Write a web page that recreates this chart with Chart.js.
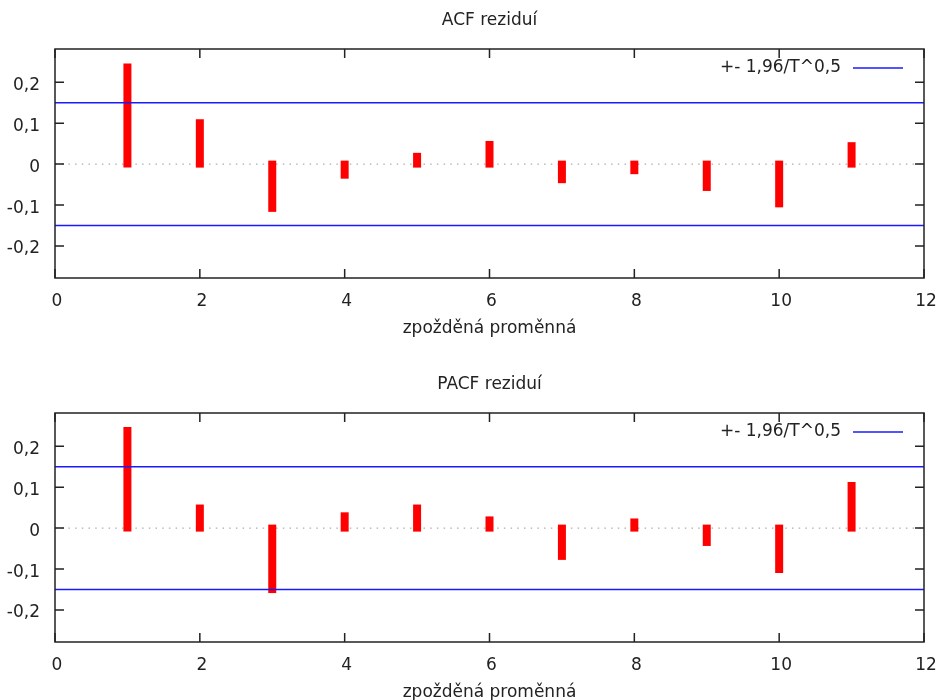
<!DOCTYPE html>
<html>
<head>
<meta charset="utf-8">
<script src="https://cdn.jsdelivr.net/npm/chart.js@4/dist/chart.umd.min.js"></script>
<style>
  html, body { margin: 0; padding: 0; background: #fff; overflow: hidden; }
  body { width: 936px; height: 700px; position: relative; }
  .box { position: absolute; left: 0; width: 936px; height: 350px; }
</style>
</head>
<body>
<div class="box" style="top:0"><canvas id="acf" width="936" height="350"></canvas></div>
<div class="box" style="top:364px"><canvas id="pacf" width="936" height="350"></canvas></div>
<script>
// lags and residual autocorrelations
const lags = [1, 2, 3, 4, 5, 6, 7, 8, 9, 10, 11];
const acfValues = [0.237, 0.101, -0.108, -0.027, 0.019, 0.048, -0.038, -0.016, -0.057, -0.097, 0.045];
const pacfValues = [0.238, 0.049, -0.150, 0.030, 0.049, 0.020, -0.069, 0.015, -0.035, -0.101, 0.104];
const band = 0.15; // 1.96/sqrt(T)
const bandLabel = "+- 1,96/T^0,5";
const xTicks = [0, 2, 4, 6, 8, 10, 12];
const yTicks = [-0.2, -0.1, 0, 0.1, 0.2];
const xLabel = "zpožděná proměnná";

const textColor = "#222";
Chart.defaults.font.family = "'DejaVu Sans', Verdana, sans-serif";
Chart.defaults.font.size = 17;
Chart.defaults.color = textColor;

// gnuplot-ish frame, inward ticks and the legend in the top right corner
const framePlugin = {
    id: "frame",
    afterDatasetsDraw(chart) {
        const ctx = chart.ctx;
        const a = chart.chartArea;
        const xs = chart.scales.x, ys = chart.scales.y;
        ctx.save();
        ctx.strokeStyle = textColor;
        ctx.lineWidth = 1.5;
        ctx.strokeRect(a.left, a.top, a.right - a.left, a.bottom - a.top);
        ctx.beginPath();
        xs.ticks.forEach(t => {
            const px = xs.getPixelForValue(t.value);
            ctx.moveTo(px, a.bottom); ctx.lineTo(px, a.bottom - 9);
            ctx.moveTo(px, a.top); ctx.lineTo(px, a.top + 9);
        });
        ys.ticks.forEach(t => {
            const py = ys.getPixelForValue(t.value);
            ctx.moveTo(a.left, py); ctx.lineTo(a.left + 9, py);
            ctx.moveTo(a.right, py); ctx.lineTo(a.right - 9, py);
        });
        ctx.stroke();

        const ly = a.top + 19;
        ctx.font = "17px 'DejaVu Sans', Verdana, sans-serif";
        ctx.fillStyle = textColor;
        ctx.textAlign = "right";
        ctx.textBaseline = "middle";
        ctx.fillText(bandLabel, a.right - 83, ly);
        ctx.strokeStyle = "#1a1aff";
        ctx.lineWidth = 1.5;
        ctx.beginPath();
        ctx.moveTo(a.right - 71, ly);
        ctx.lineTo(a.right - 21, ly);
        ctx.stroke();
        ctx.restore();
    }
};

function makeChart(id, title, values) {
    const ctx = document.getElementById(id).getContext("2d");
    return new Chart(ctx, {
        type: "bar",
        data: {
            datasets: [
                {
                    type: "line",
                    data: [{x: 0, y: band}, {x: 12, y: band}],
                    borderColor: "#1a1aff", borderWidth: 1.5, pointRadius: 0, order: 0
                },
                {
                    type: "line",
                    data: [{x: 0, y: -band}, {x: 12, y: -band}],
                    borderColor: "#1a1aff", borderWidth: 1.5, pointRadius: 0, order: 0
                },
                {
                    type: "bar",
                    data: lags.map((l, i) => ({x: l, y: values[i]})),
                    backgroundColor: "#ff0000",
                    barThickness: 1,
                    inflateAmount: 3.5,
                    order: 1
                },
                {
                    type: "line",
                    data: [{x: 0, y: 0}, {x: 12, y: 0}],
                    borderColor: "#999", borderWidth: 1, borderDash: [1.5, 5.2], pointRadius: 0, order: 2
                }
            ]
        },
        options: {
            responsive: false,
            animation: false,
            events: [],
            layout: { padding: { left: 0, right: 0, top: 0, bottom: 0 } },
            plugins: {
                legend: { display: false },
                tooltip: { enabled: false },
                title: {
                    display: true,
                    text: title,
                    fullSize: false,
                    color: textColor,
                    font: { size: 17, weight: "normal" },
                    padding: { top: 10, bottom: 18.6 }
                }
            },
            scales: {
                x: {
                    type: "linear",
                    min: 0, max: 12,
                    offset: false,
                    grid: { display: false, offset: false },
                    border: { display: false },
                    afterBuildTicks: s => { s.ticks = xTicks.map(v => ({value: v})); },
                    afterFit: s => { s.height = 72; s.paddingRight = 12; },
                    ticks: { padding: 5, labelOffset: 2, maxRotation: 0, autoSkip: false },
                    title: { display: true, text: xLabel, color: textColor, padding: { top: 0, bottom: 11 } }
                },
                y: {
                    min: -0.278, max: 0.281,
                    grid: { display: false },
                    border: { display: false },
                    afterBuildTicks: s => { s.ticks = yTicks.map(v => ({value: v})); },
                    afterFit: s => { s.width = 55; },
                    ticks: {
                        padding: 7,
                        labelOffset: 3,
                        callback: v => String(Math.round(v * 10) / 10).replace(".", ",")
                    }
                }
            }
        },
        plugins: [framePlugin]
    });
}

makeChart("acf", "ACF reziduí", acfValues);
makeChart("pacf", "PACF reziduí", pacfValues);
</script>
</body>
</html>
